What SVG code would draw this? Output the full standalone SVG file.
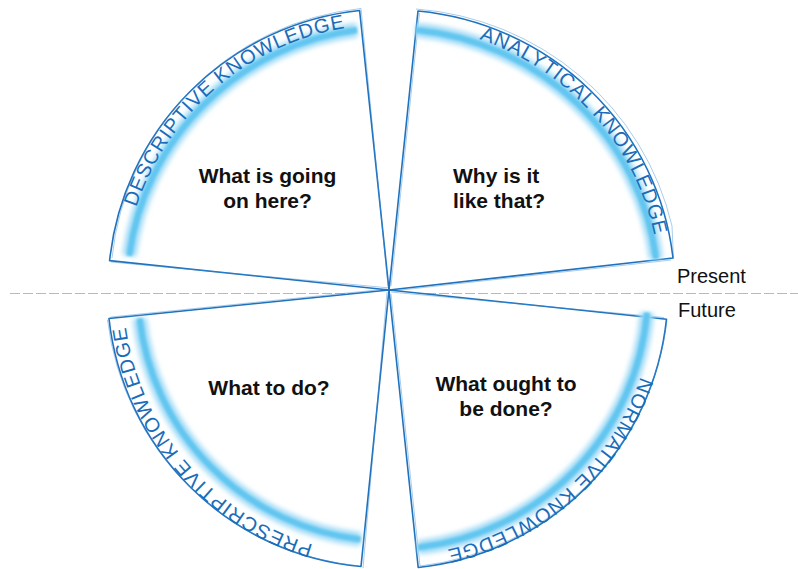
<svg xmlns="http://www.w3.org/2000/svg" width="798" height="569" viewBox="0 0 798 569">
  <defs>
    <style>
      .slice { fill: #ffffff; stroke: #1f72bd; stroke-width: 1.6; stroke-linejoin: round; }
      .sketch { fill: none; stroke: #3a8ad0; stroke-width: 0.8; opacity: 0.55; }
      .glow-o { fill: none; stroke: #9fdaf6; stroke-width: 14; filter: url(#blurO); }
      .glow-i { fill: none; stroke: #62c6f0; stroke-width: 6; filter: url(#blurI); }
      .arc-label { font-family: "Liberation Sans", Arial, sans-serif; font-size: 20px; fill: #1a6cb8; letter-spacing: 1px; }
      .q { font-family: "Liberation Sans", Arial, sans-serif; font-size: 21px; font-weight: bold; fill: #111111; text-anchor: middle; }
      .side { font-family: "Liberation Sans", Arial, sans-serif; font-size: 20px; fill: #111111; }
      .divider { stroke: #93c3ea; stroke-width: 1.2; stroke-dasharray: 10 3; fill: none; }
    </style>
    <filter id="blurO" x="-20%" y="-20%" width="140%" height="140%"><feGaussianBlur stdDeviation="2.5"/></filter>
    <filter id="blurI" x="-20%" y="-20%" width="140%" height="140%"><feGaussianBlur stdDeviation="1.2"/></filter>
    <path id="tpTL" d="M160.1,425.4 A266,266 0 0 1 557.8,84.5"/>
    <path id="tpTR" d="M250.4,61.4 A271,266 0 0 1 598.9,458.3"/>
    <path id="tpBR" d="M615.3,150.2 A266,266 0 0 1 224.1,498.8"/>
    <path id="tpBL" d="M524.4,518.9 A266,266 0 0 1 183.5,121.2"/>
  </defs>

  <rect width="798" height="569" fill="#ffffff"/>

  <g id="connectors">
    <line class="divider" x1="10" y1="293.5" x2="798" y2="293.5"/>
  </g>

  <g id="descriptive">
    <path class="slice" d="M389,290 L109.6,260.6 A281,281 0 0 1 359.6,10.5 Z"/>
    <path class="sketch" d="M390,288 L111,262 M112,258 A279,279 0 0 1 361,8.5 L388,286"/>
    <path class="glow-o" d="M129.3,255.8 A262,262 0 0 1 357.1,30"/>
    <path class="glow-i" d="M129.3,255.8 A262,262 0 0 1 357.1,30"/>
    <text class="arc-label"><textPath href="#tpTL" startOffset="50%" text-anchor="middle">DESCRIPTIVE KNOWLEDGE</textPath></text>
    <text class="q" x="267.5" y="182.5">What is going</text>
    <text class="q" x="267.5" y="208">on here?</text>
  </g>

  <g id="analytical">
    <path class="slice" d="M389,290 L418,11 A284,280 0 0 1 673,258 Z"/>
    <path class="sketch" d="M391,286 L419.5,13 M416,9 A285,281 0 0 1 672,226 L673.5,259 M671,260 L392,291"/>
    <path class="glow-o" d="M416,30 A269,261 0 0 1 656,259"/>
    <path class="glow-i" d="M416,30 A269,261 0 0 1 656,259"/>
    <text class="arc-label"><textPath href="#tpTR" startOffset="50%" text-anchor="middle">ANALYTICAL KNOWLEDGE</textPath></text>
    <text class="q" x="453" y="182.5" style="text-anchor:start">Why is it</text>
    <text class="q" x="453" y="208" style="text-anchor:start">like that?</text>
  </g>

  <g id="normative">
    <path class="slice" d="M389,290 L666.5,319.2 A279,279 0 0 1 418.2,567.5 Z"/>
    <path class="sketch" d="M391,292 L664,317.5 M667,321 A281,281 0 0 1 420,566 L391,294"/>
    <path class="glow-o" d="M647,312.6 A259,259 0 0 1 417.9,547.4"/>
    <path class="glow-i" d="M647,312.6 A259,259 0 0 1 417.9,547.4"/>
    <text class="arc-label"><textPath href="#tpBR" startOffset="50%" text-anchor="middle">NORMATIVE KNOWLEDGE</textPath></text>
    <text class="q" x="506" y="391">What ought to</text>
    <text class="q" x="506" y="416">be done?</text>
  </g>

  <g id="prescriptive">
    <path class="slice" d="M389,290 L361,566.5 A279,279 0 0 1 109,318.5 Z"/>
    <path class="sketch" d="M387,292 L363,568 M359,566 A281,281 0 0 1 107.5,320 L111,317 L387,289"/>
    <path class="glow-o" d="M360.6,539.4 A251,251 0 0 1 139.6,318.4"/>
    <path class="glow-i" d="M360.6,539.4 A251,251 0 0 1 139.6,318.4"/>
    <text class="arc-label"><textPath href="#tpBL" startOffset="50%" text-anchor="middle">PRESCRIPTIVE KNOWLEDGE</textPath></text>
    <text class="q" x="269" y="395">What to do?</text>
  </g>

  <g id="time-labels">
    <text class="side" x="677" y="283">Present</text>
    <text class="side" x="678" y="317">Future</text>
  </g>
</svg>
